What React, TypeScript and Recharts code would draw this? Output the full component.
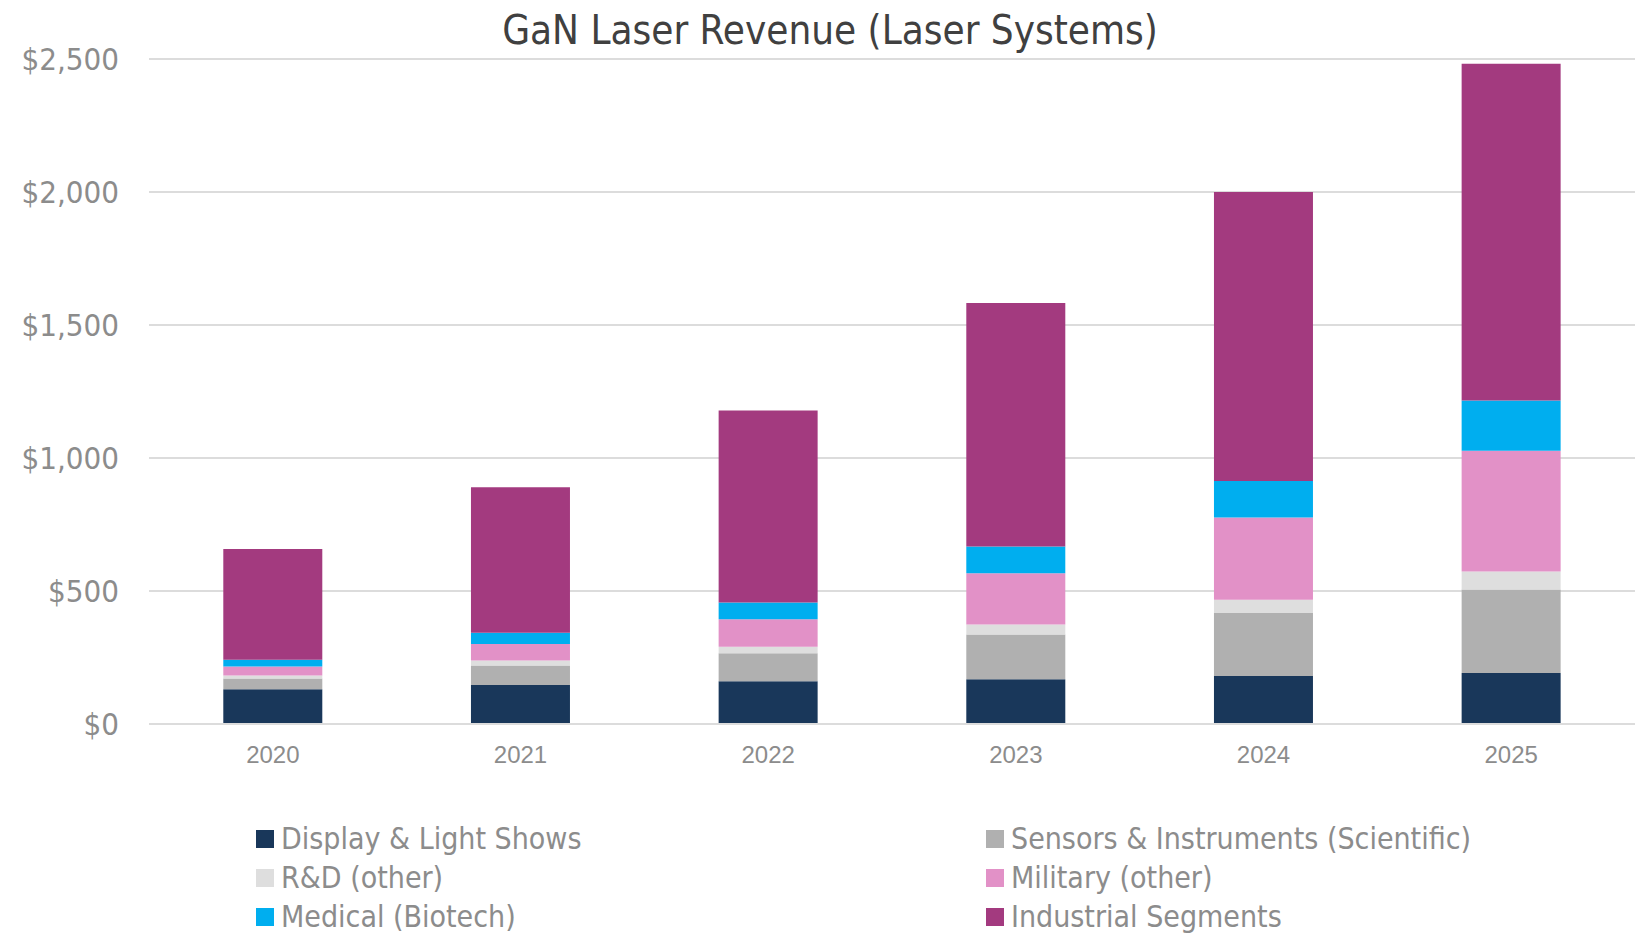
import { BarChart, Bar, XAxis, YAxis, CartesianGrid } from 'recharts';

// values ($, stacked bottom -> top)
const years = ['2020', '2021', '2022', '2023', '2024', '2025'];
const display = [131, 147, 161, 168, 180, 192];
const sensors = [40, 73, 105, 168, 237, 314];
const rnd = [11, 19, 24, 38, 50, 67];
const military = [34, 62, 104, 193, 309, 454];
const medical = [26, 42, 63, 100, 138, 189];
const industrial = [416, 547, 722, 916, 1086, 1266];
const yTicks = [0, 500, 1000, 1500, 2000, 2500];

const series = [
  { key: 'display', name: 'Display & Light Shows', color: '#19375a', values: display },
  { key: 'sensors', name: 'Sensors & Instruments (Scientific)', color: '#b0b0b0', values: sensors },
  { key: 'rnd', name: 'R&D (other)', color: '#dedede', values: rnd },
  { key: 'military', name: 'Military (other)', color: '#e291c7', values: military },
  { key: 'medical', name: 'Medical (Biotech)', color: '#00aeef', values: medical },
  { key: 'industrial', name: 'Industrial Segments', color: '#a33a7f', values: industrial },
];

const data = years.map((year, i) => {
  const row: Record<string, string | number> = { year };
  series.forEach((s) => (row[s.key] = s.values[i]));
  return row;
});

const FONT = "'DejaVu Sans Condensed', 'Liberation Sans', sans-serif";
const GRAY = '#8c8c8c';

const fmt = (v: number) => '$' + v.toLocaleString('en-US');

export default function App() {
  return (
    <div style={{ position: 'absolute', left: 0, top: 0, width: 1647, height: 935, background: '#fff', fontFamily: FONT }}>
      <div
        style={{
          position: 'absolute',
          top: 10,
          left: 0,
          width: 1660,
          textAlign: 'center',
          fontSize: 40,
          lineHeight: '40px',
          color: '#404040',
        }}
      >
        GaN Laser Revenue (Laser Systems)
      </div>
      <BarChart
        width={1647}
        height={780}
        data={data}
        margin={{ top: 59, right: 12, left: 0, bottom: 0 }}
        barCategoryGap="30%"
      >
        <CartesianGrid vertical={false} stroke="#dcdcdc" strokeWidth={2} />
        <XAxis
          dataKey="year"
          height={56}
          axisLine={{ stroke: '#dcdcdc', strokeWidth: 2 }}
          tickLine={false}
          tickSize={0}
          tickMargin={22}
          tick={{ fill: GRAY, fontSize: 24, fontFamily: 'Liberation Sans, sans-serif' }}
        />
        <YAxis
          width={149}
          domain={[0, 2500]}
          ticks={yTicks}
          tickFormatter={fmt}
          axisLine={false}
          tickLine={false}
          tickSize={0}
          tickMargin={30}
          tick={{ fill: GRAY, fontSize: 31, fontFamily: FONT }}
        />
        {series.map((s) => (
          <Bar key={s.key} dataKey={s.key} name={s.name} stackId="a" fill={s.color} isAnimationActive={false} />
        ))}
      </BarChart>
      <div
        style={{
          position: 'absolute',
          top: 819,
          left: 256,
          display: 'grid',
          gridTemplateColumns: '730px 600px',
          rowGap: 0,
        }}
      >
        {series.map((s) => (
          <div key={s.key} style={{ display: 'flex', alignItems: 'center', height: 39 }}>
            <span style={{ width: 18, height: 18, background: s.color, display: 'inline-block', marginRight: 7 }} />
            <span style={{ fontSize: 30, color: GRAY, whiteSpace: 'nowrap' }}>{s.name}</span>
          </div>
        ))}
      </div>
    </div>
  );
}
